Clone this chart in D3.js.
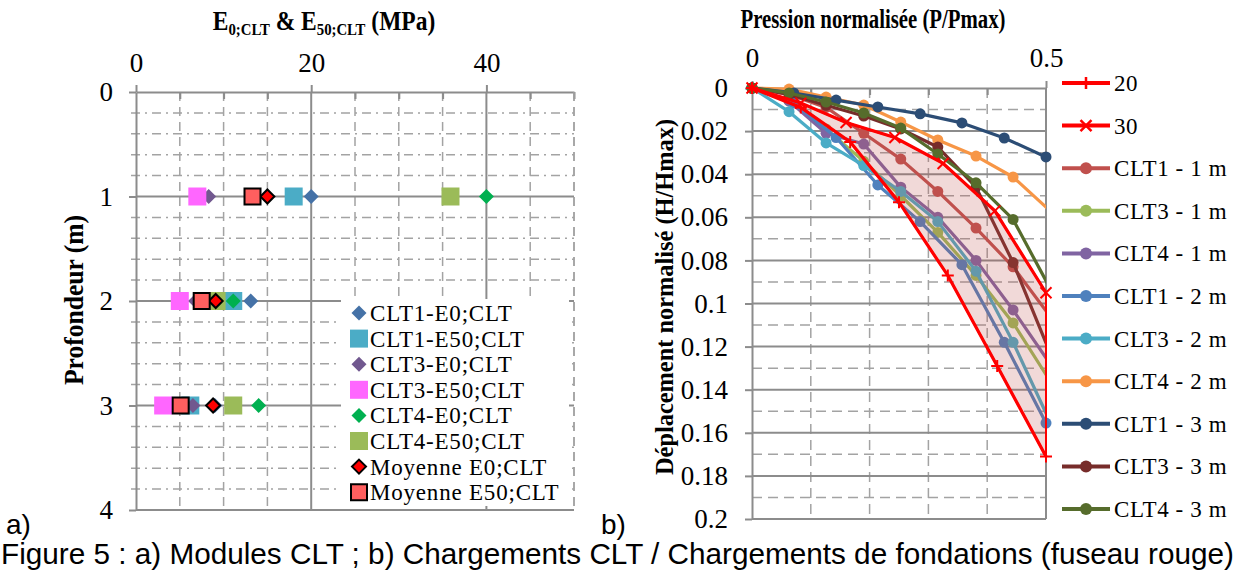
<!DOCTYPE html>
<html>
<head>
<meta charset="utf-8">
<script src="https://cdn.jsdelivr.net/npm/d3@7"></script>
<style>
body { margin: 0; background: #fff; }
svg text { font-family: "Liberation Serif", "Times New Roman", serif; fill: #000; }
</style>
</head>
<body>
<svg id="fig" width="1237" height="574"></svg>
<script>
// ---- a) modules (MPa) per depth ----
var depths = [1, 2, 3];
var clt1E0 = [20.0, 13.1, 9.0];
var clt1E50 = [18.0, 11.1, 6.2];
var clt3E0 = [8.3, 6.8, 6.5];
var clt3E50 = [7.0, 5.0, 3.1];
var clt4E0 = [40.0, 11.1, 14.0];
var clt4E50 = [35.9, 9.2, 11.1];
var moyE0 = [15.0, 9.1, 8.8];
var moyE50 = [13.3, 7.5, 5.1];
var xTicksL = [0, 20, 40];
var yTicksL = [0, 1, 2, 3, 4];

// ---- b) normalised curves ----
var p20 = [0, 0.083, 0.167, 0.25, 0.333, 0.417, 0.5];
var h20 = [0, 0.009, 0.025, 0.053, 0.087, 0.129, 0.171];
var p30 = [0, 0.083, 0.16, 0.243, 0.325, 0.413, 0.5];
var h30 = [0, 0.007, 0.016, 0.023, 0.035, 0.057, 0.095];
var pClt1 = [0, 0.071, 0.143, 0.214, 0.286, 0.357, 0.429, 0.5];
var pClt = [0, 0.063, 0.126, 0.19, 0.253, 0.316, 0.381, 0.444, 0.507];
var hClt1_1 = [0, 0.003, 0.009, 0.021, 0.033, 0.048, 0.065, 0.083, 0.106];
var hClt3_1 = [0, 0.006, 0.019, 0.034, 0.05, 0.067, 0.087, 0.109, 0.136];
var hClt4_1 = [0, 0.006, 0.021, 0.026, 0.046, 0.06, 0.08, 0.103, 0.128];
var hClt1_2 = [0, 0.007, 0.023, 0.045, 0.062, 0.082, 0.118, 0.1555];
var hClt3_2 = [0, 0.011, 0.0255, 0.036, 0.048, 0.062, 0.085, 0.118, 0.155];
var hClt4_2 = [0, 0.0005, 0.0042, 0.0079, 0.0158, 0.0241, 0.0316, 0.0413, 0.057];
var hClt1_3 = [0, 0.0023, 0.0056, 0.0088, 0.012, 0.0162, 0.0232, 0.032];
var hClt3_3 = [0, 0.003, 0.008, 0.013, 0.019, 0.0274, 0.046, 0.081, 0.123];
var hClt4_3 = [0, 0.0023, 0.0065, 0.0116, 0.0186, 0.0306, 0.044, 0.061, 0.093];
var yTicksR = [0, 0.02, 0.04, 0.06, 0.08, 0.1, 0.12, 0.14, 0.16, 0.18, 0.2];
var xTicksR = [0, 0.5];

var svg = d3.select("#fig");
var gridCol = "#a3a3a3", axisCol = "#8c8c8c";

function hline(g, x1, x2, y, dash, col, w) {
	g.append("line").attr("x1", x1).attr("x2", x2).attr("y1", y).attr("y2", y)
		.attr("stroke", col).attr("stroke-width", w).attr("stroke-dasharray", dash);
}
function vline(g, x, y1, y2, dash, col, w) {
	g.append("line").attr("x1", x).attr("x2", x).attr("y1", y1).attr("y2", y2)
		.attr("stroke", col).attr("stroke-width", w).attr("stroke-dasharray", dash);
}
function styleAxis(g, size) {
	g.select(".domain").attr("stroke", axisCol).attr("stroke-width", 2);
	g.selectAll(".tick line").attr("stroke", axisCol).attr("stroke-width", 2);
	g.selectAll(".tick text").style("font-family", "Liberation Serif").style("font-size", size + "px").attr("fill", "#000");
}

/* ================= a) ================= */
var xL = d3.scaleLinear().domain([0, 50]).range([136, 574]);
var yL = d3.scaleLinear().domain([0, 4]).range([92, 510]);
var gL = svg.append("g");

d3.range(1, 20).filter(function(i) { return i % 5 != 0; }).forEach(function(i) {
	hline(gL, xL(0) - 5, xL(50), yL(i * 0.2), "9,5,2,5", gridCol, 1.5);
});
[5, 10, 15, 25, 30, 35, 45, 50].forEach(function(v) {
	vline(gL, xL(v), yL(0), yL(4), "9,6", gridCol, 1.5);
});
[20, 40].forEach(function(v) { vline(gL, xL(v), yL(0), yL(4), null, axisCol, 2); });
[1, 2, 3].forEach(function(v) { hline(gL, xL(0), xL(50), yL(v), null, axisCol, 2); });
hline(gL, xL(0), xL(50), yL(4), null, axisCol, 2);

var axTopL = gL.append("g").attr("transform", "translate(0," + yL(0) + ")")
	.call(d3.axisTop(xL).tickValues(xTicksL).tickSize(7).tickPadding(13).tickSizeOuter(0));
styleAxis(axTopL, 27);
gL.append("g").attr("transform", "translate(0," + yL(0) + ")")
	.call(d3.axisTop(xL).tickValues([5, 10, 15, 25, 30, 35, 45, 50]).tickSize(-7).tickFormat(""))
	.call(function(g) { g.select(".domain").remove(); g.selectAll("line").attr("stroke", axisCol).attr("stroke-width", 2); });
var axLeftL = gL.append("g").attr("transform", "translate(" + xL(0) + ",0)")
	.call(d3.axisLeft(yL).tickValues(yTicksL).tickSize(7).tickPadding(16).tickSizeOuter(0).tickFormat(d3.format("d")));
styleAxis(axLeftL, 27);

// legend box hides grid behind it
gL.append("rect").attr("x", 341).attr("y", 299).attr("width", 228).attr("height", 207).attr("fill", "#fff");
vline(gL, xL(50), yL(0), yL(4), "9,6", gridCol, 1.5);

function diamond(s) { return "M0," + (-s) + "L" + s + ",0L0," + s + "L" + (-s) + ",0Z"; }
function square(s) { return "M" + (-s) + "," + (-s) + "h" + (2 * s) + "v" + (2 * s) + "h" + (-2 * s) + "Z"; }

var seriesL = [
	{ name: "CLT1-E0;CLT", vals: clt1E0, shape: "d", fill: "#4572a7" },
	{ name: "CLT1-E50;CLT", vals: clt1E50, shape: "s", fill: "#4bacc6" },
	{ name: "CLT3-E0;CLT", vals: clt3E0, shape: "d", fill: "#71588f" },
	{ name: "CLT3-E50;CLT", vals: clt3E50, shape: "s", fill: "#ff66ff" },
	{ name: "CLT4-E0;CLT", vals: clt4E0, shape: "d", fill: "#00b050" },
	{ name: "CLT4-E50;CLT", vals: clt4E50, shape: "s", fill: "#9bbb59" },
	{ name: "Moyenne E0;CLT", vals: moyE0, shape: "d", fill: "#ff0000", stroke: "#000" },
	{ name: "Moyenne E50;CLT", vals: moyE50, shape: "s", fill: "#ff5f5f", stroke: "#000" }
];
function markerPath(s) {
	if (s.shape == "d") return diamond(s.stroke ? 7 : 7.5);
	return square(s.stroke ? 8 : 9);
}
seriesL.forEach(function(s, k) {
	gL.selectAll(".m" + k).data(depths).enter().append("path")
		.attr("d", markerPath(s))
		.attr("transform", function(d, i) { return "translate(" + xL(s.vals[i]) + "," + yL(d) + ")"; })
		.attr("fill", s.fill)
		.attr("stroke", s.stroke || "none").attr("stroke-width", 2);
	var ly = 313 + k * 25.6;
	gL.append("path").attr("d", markerPath(s)).attr("transform", "translate(359," + ly + ")")
		.attr("fill", s.fill).attr("stroke", s.stroke || "none").attr("stroke-width", 2);
	gL.append("text").attr("x", 370).attr("y", ly + 8).style("font-size", "23px")
		.style("letter-spacing", "0.8px").text(s.name);
});

// titles
var tL = gL.append("text").attr("transform", "translate(324,30) scale(0.87,1)").attr("text-anchor", "middle")
	.style("font-size", "27px").style("font-weight", "bold");
tL.append("tspan").text("E");
tL.append("tspan").attr("dy", 5).style("font-size", "17px").text("0;CLT");
tL.append("tspan").attr("dy", -5).text(" & E");
tL.append("tspan").attr("dy", 5).style("font-size", "17px").text("50;CLT");
tL.append("tspan").attr("dy", -5).text(" (MPa)");
gL.append("text").attr("transform", "translate(83,300) rotate(-90)").attr("text-anchor", "middle")
	.attr("textLength", 170).attr("lengthAdjust", "spacingAndGlyphs")
	.style("font-size", "27px").style("font-weight", "bold").text("Profondeur (m)");

/* ================= b) ================= */
var xR = d3.scaleLinear().domain([0, 0.5]).range([752, 1046]);
var yR = d3.scaleLinear().domain([0, 0.2]).range([88, 519]);
var gR = svg.append("g");

d3.range(1, 20, 2).forEach(function(i) { hline(gR, xR(0), xR(0.5), yR(i * 0.01), "10,6", gridCol, 1.5); });
[0.1, 0.2, 0.3, 0.4].forEach(function(v) { vline(gR, xR(v), yR(0), yR(0.2), "10,6", gridCol, 1.5); });
yTicksR.slice(1).forEach(function(v) { hline(gR, xR(0), xR(0.5), yR(v), null, axisCol, 2); });
vline(gR, xR(0.5), yR(0), yR(0.2), null, axisCol, 2);

var axTopR = gR.append("g").attr("transform", "translate(0," + yR(0) + ")")
	.call(d3.axisTop(xR).tickValues(xTicksR).tickSize(7).tickPadding(14).tickSizeOuter(0)
		.tickFormat(function(d) { return d == 0 ? "0" : "0.5"; }));
styleAxis(axTopR, 27);
gR.append("g").attr("transform", "translate(0," + yR(0) + ")")
	.call(d3.axisTop(xR).tickValues([0.1, 0.2, 0.3, 0.4]).tickSize(-7).tickFormat(""))
	.call(function(g) { g.select(".domain").remove(); g.selectAll("line").attr("stroke", axisCol).attr("stroke-width", 2); });
var axLeftR = gR.append("g").attr("transform", "translate(" + xR(0) + ",0)")
	.call(d3.axisLeft(yR).tickValues(yTicksR).tickSize(7).tickPadding(17).tickSizeOuter(0)
		.tickFormat(function(d) { return String(+d.toFixed(2)); }));
styleAxis(axLeftR, 27);

svg.append("defs").append("clipPath").attr("id", "plotR").append("rect")
	.attr("x", xR(0) - 10).attr("y", yR(0) - 10).attr("width", xR(0.5) - xR(0) + 10).attr("height", yR(0.2) - yR(0) + 10);

var seriesR = [
	{ name: "CLT1 - 1 m", p: pClt, h: hClt1_1, col: "#c0504d" },
	{ name: "CLT3 - 1 m", p: pClt, h: hClt3_1, col: "#9bbb59" },
	{ name: "CLT4 - 1 m", p: pClt, h: hClt4_1, col: "#8064a2" },
	{ name: "CLT1 - 2 m", p: pClt1, h: hClt1_2, col: "#4f81bd" },
	{ name: "CLT3 - 2 m", p: pClt, h: hClt3_2, col: "#4bacc6" },
	{ name: "CLT4 - 2 m", p: pClt, h: hClt4_2, col: "#f79646" },
	{ name: "CLT1 - 3 m", p: pClt1, h: hClt1_3, col: "#2c4d75" },
	{ name: "CLT3 - 3 m", p: pClt, h: hClt3_3, col: "#772c2a" },
	{ name: "CLT4 - 3 m", p: pClt, h: hClt4_3, col: "#566c2c" }
];
var line = d3.line().x(function(d) { return xR(d[0]); }).y(function(d) { return yR(d[1]); });
function pts(p, h) { return p.map(function(v, i) { return [v, h[i]]; }); }

var gCurves = gR.append("g");
seriesR.forEach(function(s) {
	var d = pts(s.p, s.h);
	gCurves.append("path").attr("d", line(d)).attr("clip-path", "url(#plotR)")
		.attr("fill", "none").attr("stroke", s.col).attr("stroke-width", 3.2).attr("stroke-linejoin", "round");
	gCurves.selectAll(null).data(d.filter(function(q) { return q[0] <= 0.5; })).enter().append("circle")
		.attr("cx", function(q) { return xR(q[0]); }).attr("cy", function(q) { return yR(q[1]); })
		.attr("r", 5.5).attr("fill", s.col);
});

// fuseau rouge between the 20 and 30 curves
var band = pts(p20, h20).concat(pts(p30, h30).reverse());
gR.append("path").attr("d", line(band) + "Z").attr("fill", "rgba(192,80,77,0.22)")
	.attr("stroke", "#ff0000").attr("stroke-width", 2);

var plus = "M-6,0H6M0,-6V6", cross = "M-5.5,-5.5L5.5,5.5M-5.5,5.5L5.5,-5.5";
[[p20, h20, plus], [p30, h30, cross]].forEach(function(c) {
	var d = pts(c[0], c[1]);
	gR.append("path").attr("d", line(d)).attr("fill", "none").attr("stroke", "#ff0000").attr("stroke-width", 3.2);
	gR.selectAll(null).data(d).enter().append("path").attr("d", c[2])
		.attr("transform", function(q) { return "translate(" + xR(q[0]) + "," + yR(q[1]) + ")"; })
		.attr("stroke", "#ff0000").attr("stroke-width", 2);
});

// legend b)
var legR = [{ name: "20", col: "#ff0000", mk: plus }, { name: "30", col: "#ff0000", mk: cross }].concat(seriesR);
legR.forEach(function(s, i) {
	var ly = 83 + i * 42.6;
	gR.append("line").attr("x1", 1062).attr("x2", 1110).attr("y1", ly).attr("y2", ly)
		.attr("stroke", s.col).attr("stroke-width", 4);
	if (s.mk) gR.append("path").attr("d", s.mk).attr("transform", "translate(1086," + ly + ")")
		.attr("stroke", s.col).attr("stroke-width", 2.5);
	else gR.append("circle").attr("cx", 1086).attr("cy", ly).attr("r", 6).attr("fill", s.col);
	gR.append("text").attr("x", 1114).attr("y", ly + 8).style("font-size", "23px")
		.style("letter-spacing", "0.6px").text(s.name);
});

gR.append("text").attr("x", 873).attr("y", 28).attr("text-anchor", "middle")
	.attr("textLength", 265).attr("lengthAdjust", "spacingAndGlyphs")
	.style("font-size", "27px").style("font-weight", "bold").text("Pression normalisée (P/Pmax)");
gR.append("text").attr("transform", "translate(673,297) rotate(-90)").attr("text-anchor", "middle")
	.attr("textLength", 356).attr("lengthAdjust", "spacingAndGlyphs")
	.style("font-size", "25px").style("font-weight", "bold").text("Déplacement normalisé (H/Hmax)");

// panel letters and caption
svg.append("text").attr("x", 6).attr("y", 534).style("font-family", "Liberation Sans").style("font-size", "28px").text("a)");
svg.append("text").attr("x", 601).attr("y", 534).style("font-family", "Liberation Sans").style("font-size", "28px").text("b)");
svg.append("text").attr("x", 1).attr("y", 564).attr("textLength", 1233).attr("lengthAdjust", "spacingAndGlyphs")
	.style("font-family", "Liberation Sans").style("font-size", "29px")
	.text("Figure 5 : a) Modules CLT ; b) Chargements CLT / Chargements de fondations (fuseau rouge)");
</script>
</body>
</html>
